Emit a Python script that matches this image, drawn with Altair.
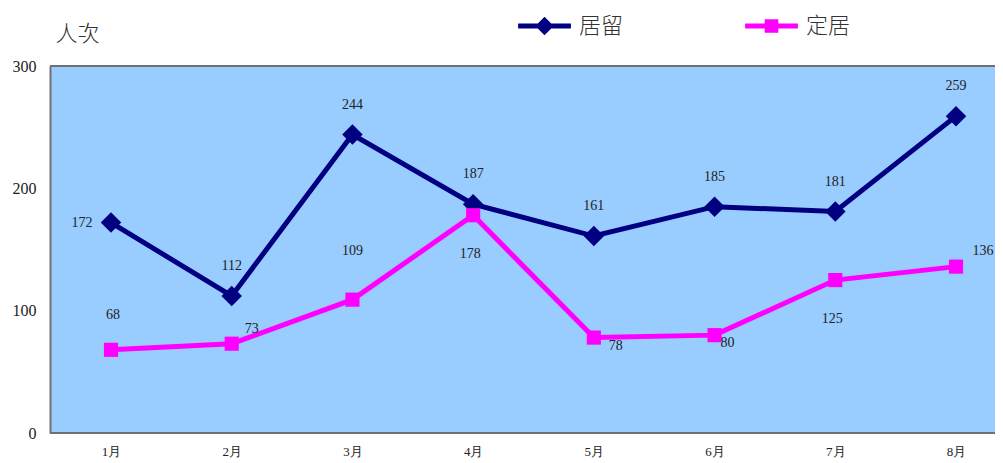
import altair as alt
import pandas as pd

months = ["1月", "2月", "3月", "4月", "5月", "6月", "7月", "8月"]
series_names = ["居留", "定居"]
residence = [172, 112, 244, 187, 161, 185, 181, 259]
settle = [68, 73, 109, 178, 78, 80, 125, 136]
residence_pos = ["left", "above", "above", "above", "above", "above", "above", "above"]
settle_pos = ["above2", "upright", "high", "below", "downright", "right", "below", "upright2"]

# label placement styles (pixel offsets)
label_offsets = {
    "left": (-29, 0), "above": (0, -30), "above2": (2, -35), "high": (0, -49),
    "upright": (20, -15), "below": (-3, 39), "downright": (22, 8),
    "right": (13, 8), "upright2": (27, -16),
}

rows = []
for s, vals, pos in [(series_names[0], residence, residence_pos), (series_names[1], settle, settle_pos)]:
    for m, v, p in zip(months, vals, pos):
        rows.append({"month": m, "series": s, "value": v, "pos": p})
df = pd.DataFrame(rows)

NAVY = "#000080"
MAGENTA = "#FF00FF"
BORDER = "#707070"
SERIF = "Liberation Serif"
CJK = "Noto Sans CJK TC"

P1 = "M-3.3,-0.3H3.3V0.3H-3.3Z M0,-1.15L1.15,0L0,1.15L-1.15,0Z"
P2 = "M-3.3,-0.3H3.3V0.3H-3.3Z M-0.85,-0.85H0.85V0.85H-0.85Z"

x = alt.X("month:N", sort=months,
          scale=alt.Scale(type="point", range=[61, 906], padding=0),
          axis=alt.Axis(title=None, domain=False,
                        ticks=False, labelAngle=0,
                        labelPadding=12, labelFontSize=13, labelFont=SERIF,
                        labelColor="#222"))
y = alt.Y("value:Q", scale=alt.Scale(domain=[0, 300], nice=False),
          axis=alt.Axis(values=[0, 100, 200, 300], domain=True, domainColor=BORDER,
                        domainWidth=2, ticks=False,
                        grid=False, labelPadding=14, labelFontSize=16,
                        labelFont=SERIF, labelColor="#222",
                        title="人次", titleAngle=0, titleAlign="left",
                        titleBaseline="middle", titleX=5, titleY=-33,
                        titleFontSize=22, titleFont=CJK, titleFontWeight=300,
                        titleColor="#333"))

base = alt.Chart(df)

legend = alt.Legend(
    title=None, orient="none", direction="horizontal", legendX=483.5, legendY=-51,
    padding=0, symbolSize=256, labelOffset=23.5, columnPadding=121,
    symbolOpacity=1, symbolStrokeWidth=0,
    labelFontSize=22, labelFont=CJK, labelFontWeight=300, labelColor="#333",
)

top_border = base.mark_rule(color=BORDER, strokeWidth=2).encode(y=alt.datum(300))
bottom_border = base.mark_rule(color=BORDER, strokeWidth=2).encode(y=alt.datum(0))

line1 = base.transform_filter(alt.datum.series == series_names[0]).mark_line(
    strokeWidth=5, color=NAVY).encode(x=x, y=y)
line2 = base.transform_filter(alt.datum.series == series_names[1]).mark_line(
    strokeWidth=5, color=MAGENTA).encode(x=x, y=y)

pts1 = base.transform_filter(alt.datum.series == series_names[0]).mark_point(
    filled=True, shape="diamond", size=420, opacity=1, color=NAVY).encode(x=x, y=y)
pts2 = base.transform_filter(alt.datum.series == series_names[1]).mark_point(
    filled=True, shape="square", size=200, opacity=1, color=MAGENTA).encode(x=x, y=y)

legend_layer = base.mark_point(filled=True, opacity=0).encode(
    x=x, y=y,
    color=alt.Color("series:N", scale=alt.Scale(domain=series_names, range=[NAVY, MAGENTA]),
                    sort=series_names, legend=legend),
    shape=alt.Shape("series:N", scale=alt.Scale(domain=series_names, range=[P1, P2]),
                    sort=series_names, legend=legend),
)

texts = []
for name, (dx, dy) in label_offsets.items():
    texts.append(base.transform_filter(alt.datum.pos == name).mark_text(
        dx=dx, dy=dy, font=SERIF, fontSize=14, color="#222", baseline="middle"
    ).encode(x=x, y=y, text="value:Q"))

chart = alt.layer(line1, line2, pts1, pts2, legend_layer, top_border, bottom_border,
                  *texts).properties(
    width=945, height=367,
    autosize=alt.AutoSizeParams(type="none"),
    padding={"left": 42, "top": 58, "right": 0, "bottom": 30},
).configure_view(fill="#99CCFF", strokeWidth=0)

chart.save("out.html", embed_options={"renderer": "svg", "actions": False})
